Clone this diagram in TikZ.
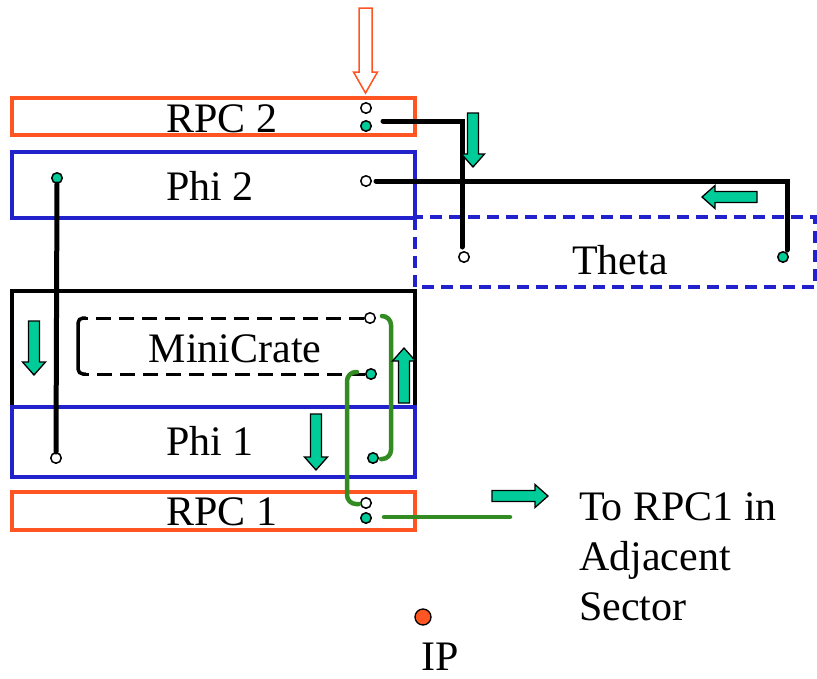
\documentclass[tikz,border=0pt]{standalone}
\usepackage{fontspec}
\setmainfont{Liberation Serif}
\definecolor{rpcred}{RGB}{255,85,34}
\definecolor{phiblue}{RGB}{34,34,204}
\definecolor{agreen}{RGB}{0,204,153}
\definecolor{lgreen}{RGB}{51,140,34}
\newcommand\garrow[4]{\draw[garr, shift={(#1,#2)}, rotate=#3] (0,-5.5) -- ({#4-13},-5.5) -- ({#4-13},-11.5) -- (#4,0) -- ({#4-13},11.5) -- ({#4-13},5.5) -- (0,5.5) -- cycle;}
\begin{document}
\begin{tikzpicture}[x=1pt,y=-1pt,
  garr/.style={fill=agreen,draw=black,line width=1.3pt,line join=miter},
  rpcbox/.style={draw=rpcred,line width=3.2pt},
  phibox/.style={draw=phiblue,line width=3.2pt},
  wire/.style={draw=black,line width=5pt,line cap=round},
  gwire/.style={draw=lgreen,line width=4.5pt,line cap=round,rounded corners=9pt},
  wdot/.style={circle,draw=black,fill=white,line width=1.5pt,minimum size=10.5pt,inner sep=0pt},
  gdot/.style={circle,draw=black,fill=agreen,line width=1.5pt,minimum size=10.5pt,inner sep=0pt},
  lbl/.style={font=\fontsize{42}{50}\selectfont,inner sep=0pt},
]
\useasboundingbox (0,0) rectangle (817,678);
% boxes
\draw[rpcbox] (12,98) rectangle (415,135);
\draw[phibox] (12,152) rectangle (415,218);
\draw[phiblue,line width=3.2pt,dash pattern=on 12pt off 7pt] (415,218) -- (415,287) -- (815,287) -- (815,217) -- (415,217);
\draw[black,line width=3.2pt] (12,407) -- (12,291) -- (415,291) -- (415,407);
\draw[phibox] (12,407) rectangle (415,477);
\draw[rpcbox] (12,492) rectangle (415,530);
% labels
\node[lbl] (trpc2) at (222,119) {RPC 2};
\node[lbl] (tphi2) at (210,186) {Phi 2};
\node[lbl] (ttheta) at (620,260) {Theta};
\node[lbl] (tmini) at (235,349) {MiniCrate};
\node[lbl] (tphi1) at (210,441) {Phi 1};
\node[lbl] (trpc1) at (222,512) {RPC 1};
\node[lbl,anchor=west,align=left] (tadj) at (579,557) {To RPC1 in\\Adjacent\\Sector};
\node[lbl] (tip) at (440,657) {IP};
% dots
\node[wdot] (r2a) at (366,108) {};
\node[gdot] (r2b) at (366,126) {};
\node[wdot] (p2a) at (366,181) {};
\node[gdot] (p2l) at (57,178) {};
\node[wdot] (tha) at (464,257) {};
\node[gdot] (thb) at (783,257) {};
\node[wdot] (mca) at (370,318) {};
\node[gdot] (mcb) at (371,374) {};
\node[wdot] (p1l) at (56,458) {};
\node[gdot] (p1r) at (373,458) {};
\node[wdot] (r1a) at (366,503) {};
\node[gdot] (r1b) at (366,518) {};
\node[circle,draw=black,fill=rpcred,line width=1.3pt,minimum size=16pt,inner sep=0pt] (ipdot) at (423,617) {};
\coordinate (gend) at (510,517);
% wires
\draw[wire] ([xshift=17pt,yshift=5pt]r2b.center) -- (462,121) -- (462,247);
\draw[wire] ([xshift=10pt]p2a.center) -- (787,181) -- (787,250);
\draw[wire] (p2l.south) -- (p1l.north);
\draw[black,line width=3pt,dash pattern=on 15pt off 8pt] (mca.west) -- (83,318);
\draw[black,line width=3pt,dash pattern=on 15pt off 8pt] (mcb.west) -- (83,374);
\draw[black,line width=3.5pt,rounded corners=5pt] (86,318) -- (78,318) -- (78,374) -- (86,374);
\draw[gwire] (382,316) -- (391,316) -- (391,459) -- (381,459);
\draw[gwire] (357,372) -- (347,372) -- (347,504) -- (359,504);
\draw[gwire,rounded corners=0pt] ([xshift=18pt,yshift=1pt]r1b.center) -- (gend);
% arrows
\draw[draw=rpcred,fill=white,line width=1.5pt] (359,8) -- (372,8) -- (372,72) -- (377.5,72) -- (365.5,93) -- (353.5,72) -- (359,72) -- cycle;
\garrow{473}{113}{-90}{54}
\garrow{757}{197}{180}{55}
\garrow{34}{321}{-90}{54}
\garrow{404}{403}{90}{55}
\garrow{316}{414}{-90}{56}
\garrow{492}{496}{0}{56}
\end{tikzpicture}
\end{document}
